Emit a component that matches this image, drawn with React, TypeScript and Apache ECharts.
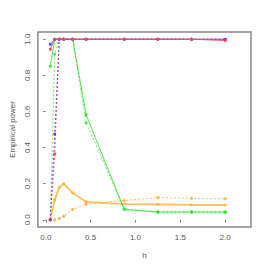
import React, { useEffect, useRef } from "react";
import * as echarts from "echarts";

const hValues = [0.05, 0.1, 0.15, 0.2, 0.3, 0.45, 0.875, 1.25, 1.625, 2.0];
const redSolid = [0.945, 1.0, 1.0, 1.0, 1.0, 1.0, 1.0, 1.0, 1.0, 0.993];
const blueSolid = [0.972, 1.0, 1.0, 1.0, 1.0, 1.0, 1.0, 1.0, 1.0, 1.0];
const redDotted = [0.0, 0.365, 1.0, 1.0, 1.0, 1.0, 1.0, 1.0, 1.0, 0.995];
const blueDotted = [0.0, 0.475, 1.0, 1.0, 1.0, 1.0, 1.0, 1.0, 1.0, 1.0];
const greenSolid = [0.85, 1.0, 1.0, 1.0, 1.0, 0.581, 0.057, 0.044, 0.044, 0.044];
const greenDotted = [0.0, 0.918, 1.0, 1.0, 1.0, 0.537, 0.06, 0.04, 0.04, 0.04];
const orangeSolid = [0.0, 0.11, 0.178, 0.199, 0.149, 0.099, 0.087, 0.085, 0.082, 0.082];
const orangeDotted = [0.0, 0.0, 0.007, 0.02, 0.057, 0.087, 0.107, 0.123, 0.119, 0.116];
const xTicks = [0, 0.5, 1, 1.5, 2];
const yTicks = [0, 0.2, 0.4, 0.6, 0.8, 1.0];

const mk = (vals: number[], color: string, dotted: boolean, width = 1) => ({
  type: "line",
  data: hValues.map((h, i) => [h, vals[i]]),
  symbol: "circle",
  symbolSize: 3,
  itemStyle: { color },
  lineStyle: { color, width, type: dotted ? [2, 2] : "solid", opacity: 0.85 },
  silent: true,
});

export default function App() {
  const ref = useRef<HTMLDivElement>(null);
  useEffect(() => {
    const chart = echarts.init(ref.current!, null, { renderer: "svg" });
    const font = { fontFamily: "Liberation Sans, Arial, sans-serif", fontSize: 8, color: "#555" };
    chart.setOption({
      animation: false,
      grid: { left: 32, right: 15, top: 32, bottom: 39, show: true, borderColor: "#888", borderWidth: 1.5 },
      xAxis: {
        type: "value",
        min: -0.088,
        max: 2.288,
        name: "h",
        nameLocation: "middle",
        nameGap: 24,
        nameTextStyle: font,
        axisLine: { show: false },
        splitLine: { show: false },
        axisTick: { show: true, length: 3, lineStyle: { color: "#888" }, customValues: xTicks },
        axisLabel: { ...font, margin: 6, customValues: xTicks, formatter: (v: number) => v.toFixed(1) },
      },
      yAxis: {
        type: "value",
        min: -0.04,
        max: 1.04,
        name: "Empirical power",
        nameLocation: "middle",
        nameGap: 21,
        nameRotate: 90,
        nameTextStyle: font,
        axisLine: { show: false },
        splitLine: { show: false },
        axisTick: { show: true, length: 3, lineStyle: { color: "#888" }, customValues: yTicks },
        axisLabel: { ...font, rotate: 90, margin: 6, customValues: yTicks, formatter: (v: number) => v.toFixed(1) },
      },
      series: [
        mk(orangeDotted, "#ffb340", true),
        mk(orangeSolid, "#ffb340", false, 1.8),
        mk(greenDotted, "#44ee44", true),
        mk(greenSolid, "#33e033", false),
        mk(redDotted, "#ff4466", true),
        mk(blueDotted, "#7733dd", true),
        mk(blueSolid, "#4444ff", false),
        mk(redSolid, "#ff4455", false),
      ],
    });
    return () => chart.dispose();
  }, []);
  return <div ref={ref} style={{ width: 266, height: 266, position: "absolute", left: 0, top: 0 }} />;
}
